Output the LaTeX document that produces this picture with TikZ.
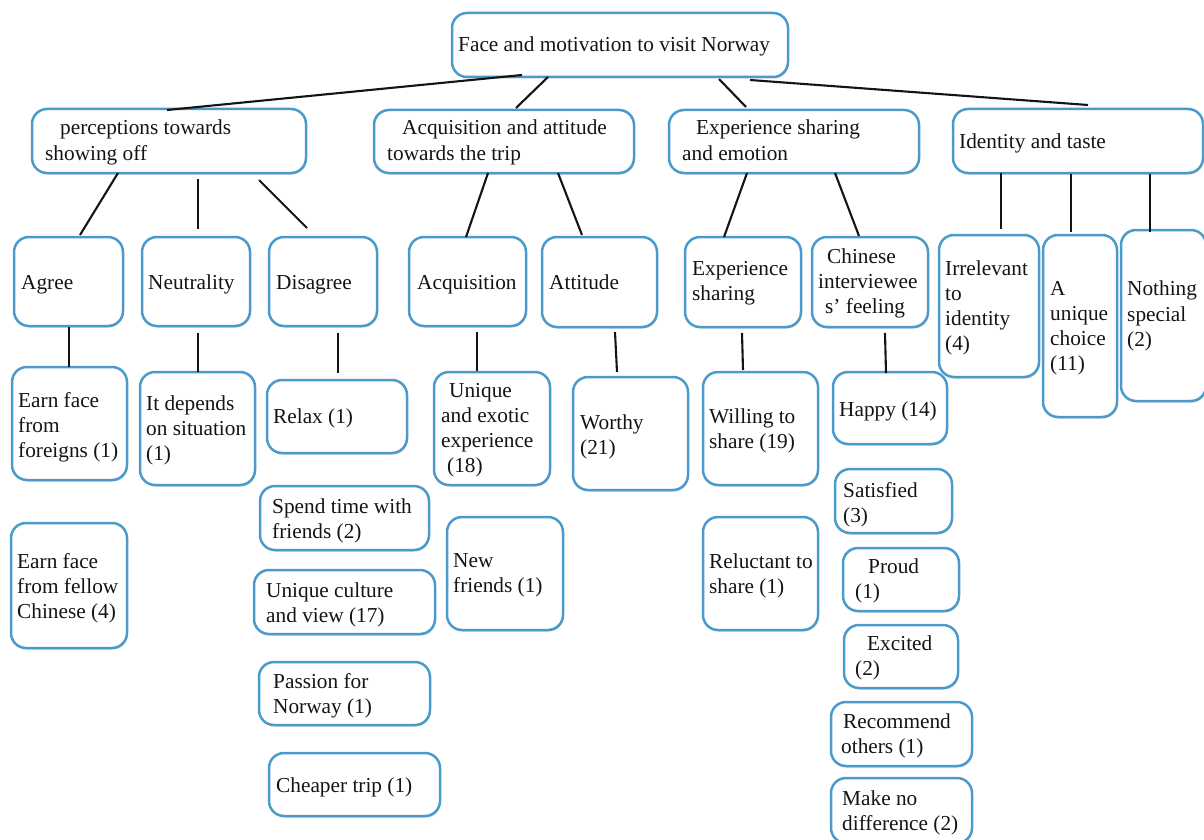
\documentclass[tikz,border=0pt]{standalone}
\usepackage{fontspec}
\setmainfont{Liberation Serif}
\usetikzlibrary{fit,shadows}
\definecolor{boxblue}{RGB}{74,154,204}
\tikzset{
  box/.style={draw=boxblue, line width=2.5pt, rounded corners=15pt, fill=white,
    inner sep=0pt,
    drop shadow={shadow xshift=0.8pt, shadow yshift=-1.5pt, opacity=0.3, fill=black!60}},
  txt/.style={anchor=base west, inner sep=0pt, font=\fontsize{21.3}{25}\selectfont, text=black!92},
  link/.style={line width=2.1pt, draw=black!92},
}
% rounded box spanning two corners
\newcommand\bx[5]{\node[box, fit={(#2,#3) (#4,#5)}] (#1) {};}
% one line of text, baseline at the given point
\newcommand\tl[4]{\node[txt] (#1) at (#2,#3) {#4};}
% connector between two named end points
\newcommand\conn[5]{\coordinate (#1-s) at (#2,#3); \coordinate (#1-e) at (#4,#5);
  \draw[link] (#1-s) -- (#1-e);}
\begin{document}
\begin{tikzpicture}[x=1pt,y=-1pt]
\useasboundingbox[fill=white] (0,0) rectangle (1204,840);

% top level
\bx{root}{452}{13}{788}{77}
\tl{root-t}{458}{52}{Face and motivation to visit Norway}

% main themes
\bx{a1}{32}{109}{306}{173}
\tl{a1-t1}{60}{135}{perceptions towards}
\tl{a1-t2}{45}{160}{showing off}
\bx{a2}{374}{110}{634}{173}
\tl{a2-t1}{402}{135}{Acquisition and attitude}
\tl{a2-t2}{387}{160}{towards the trip}
\bx{a3}{669}{110}{919}{173}
\tl{a3-t1}{696}{135}{Experience sharing}
\tl{a3-t2}{682}{160}{and emotion}
\bx{a4}{953}{109}{1203}{173}
\tl{a4-t1}{959}{148}{Identity and taste}

% sub-themes
\bx{agree}{14}{237}{123}{326}
\tl{agree-t}{21}{289}{Agree}
\bx{neutral}{142}{237}{250}{326}
\tl{neutral-t}{148}{289}{Neutrality}
\bx{disagree}{269}{237}{377}{326}
\tl{disagree-t}{276}{289}{Disagree}
\bx{acq}{409}{237}{526}{326}
\tl{acq-t}{417}{289}{Acquisition}
\bx{att}{542}{237}{657}{327}
\tl{att-t}{549}{289}{Attitude}
\bx{expsh}{685}{237}{801}{327}
\tl{expsh-t1}{692}{275}{Experience}
\tl{expsh-t2}{692}{300}{sharing}
\bx{feel}{812}{237}{928}{327}
\tl{feel-t1}{827}{263}{Chinese}
\tl{feel-t2}{818}{288}{interviewee}
\tl{feel-t3}{825}{313}{s’ feeling}
\bx{irr}{939}{235}{1039}{377}
\tl{irr-t1}{945}{275}{Irrelevant}
\tl{irr-t2}{945}{300}{to}
\tl{irr-t3}{945}{325}{identity}
\tl{irr-t4}{945}{350}{(4)}
\bx{uniq}{1043}{235}{1117}{417}
\tl{uniq-t1}{1050}{295}{A}
\tl{uniq-t2}{1050}{320}{unique}
\tl{uniq-t3}{1050}{345}{choice}
\tl{uniq-t4}{1050}{370}{(11)}
\bx{noth}{1121}{230}{1206}{401}
\tl{noth-t1}{1127}{295}{Nothing}
\tl{noth-t2}{1127}{321}{special}
\tl{noth-t3}{1127}{346}{(2)}

% codes
\bx{efor}{12}{367}{127}{480}
\tl{efor-t1}{18}{407}{Earn face}
\tl{efor-t2}{18}{432}{from}
\tl{efor-t3}{18}{457}{foreigns (1)}
\bx{efel}{11}{523}{127}{648}
\tl{efel-t1}{17}{568}{Earn face}
\tl{efel-t2}{17}{593}{from fellow}
\tl{efel-t3}{17}{618}{Chinese (4)}
\bx{dep}{140}{372}{255}{485}
\tl{dep-t1}{146}{410}{It depends}
\tl{dep-t2}{146}{435}{on situation}
\tl{dep-t3}{146}{460}{(1)}
\bx{relax}{267}{380}{407}{453}
\tl{relax-t}{273}{423}{Relax (1)}
\bx{spend}{260}{486}{429}{550}
\tl{spend-t1}{272}{513}{Spend time with}
\tl{spend-t2}{272}{538}{friends (2)}
\bx{ucult}{254}{570}{435}{634}
\tl{ucult-t1}{266}{597}{Unique culture}
\tl{ucult-t2}{266}{622}{and view (17)}
\bx{pass}{259}{662}{430}{725}
\tl{pass-t1}{273}{688}{Passion for}
\tl{pass-t2}{273}{713}{Norway (1)}
\bx{cheap}{269}{753}{440}{816}
\tl{cheap-t}{276}{792}{Cheaper trip (1)}
\bx{uexo}{434}{372}{550}{485}
\tl{uexo-t1}{449}{397}{Unique}
\tl{uexo-t2}{441}{422}{and exotic}
\tl{uexo-t3}{441}{447}{experience}
\tl{uexo-t4}{447}{472}{(18)}
\bx{newf}{447}{517}{563}{630}
\tl{newf-t1}{453}{567}{New}
\tl{newf-t2}{453}{592}{friends (1)}
\bx{worthy}{573}{377}{688}{490}
\tl{worthy-t1}{580}{429}{Worthy}
\tl{worthy-t2}{580}{454}{(21)}
\bx{will}{703}{372}{818}{485}
\tl{will-t1}{709}{423}{Willing to}
\tl{will-t2}{709}{448}{share (19)}
\bx{reluc}{703}{517}{818}{630}
\tl{reluc-t1}{709}{568}{Reluctant to}
\tl{reluc-t2}{709}{593}{share (1)}
\bx{happy}{833}{372}{947}{444}
\tl{happy-t}{839}{416}{Happy (14)}
\bx{satis}{835}{469}{952}{533}
\tl{satis-t1}{843}{497}{Satisfied}
\tl{satis-t2}{843}{522}{(3)}
\bx{proud}{843}{548}{959}{611}
\tl{proud-t1}{868}{573}{Proud}
\tl{proud-t2}{855}{598}{(1)}
\bx{excit}{844}{625}{958}{688}
\tl{excit-t1}{867}{650}{Excited}
\tl{excit-t2}{855}{675}{(2)}
\bx{recom}{831}{702}{972}{766}
\tl{recom-t1}{843}{728}{Recommend}
\tl{recom-t2}{841}{753}{others (1)}
\bx{nodiff}{831}{778}{972}{843}
\tl{nodiff-t1}{842}{805}{Make no}
\tl{nodiff-t2}{842}{830}{difference (2)}

% connectors
\conn{root-a1}{522}{75}{167}{110}
\conn{root-a2}{548}{77}{516}{108}
\conn{root-a3}{719}{79}{746}{107}
\conn{root-a4}{750}{80}{1088}{105}
\conn{a1-agree}{118}{173}{80}{235}
\conn{a1-neutral}{198}{179}{198}{229}
\conn{a1-disagree}{259}{180}{307}{228}
\conn{a2-acq}{488}{173}{466}{237}
\conn{a2-att}{558}{173}{582}{235}
\conn{a3-expsh}{747}{173}{724}{237}
\conn{a3-feel}{835}{173}{859}{236}
\conn{a4-irr}{1001}{173}{1001}{229}
\conn{a4-uniq}{1071}{174}{1071}{232}
\conn{a4-noth}{1150}{174}{1150}{232}
\conn{agree-efor}{69}{327}{69}{367}
\conn{neutral-dep}{198}{333}{198}{372}
\conn{disagree-relax}{338}{333}{338}{373}
\conn{acq-uexo}{477}{332}{477}{371}
\conn{att-worthy}{615}{332}{617}{372}
\conn{expsh-will}{742}{333}{743}{370}
\conn{feel-happy}{885}{333}{886}{373}
\end{tikzpicture}
\end{document}
